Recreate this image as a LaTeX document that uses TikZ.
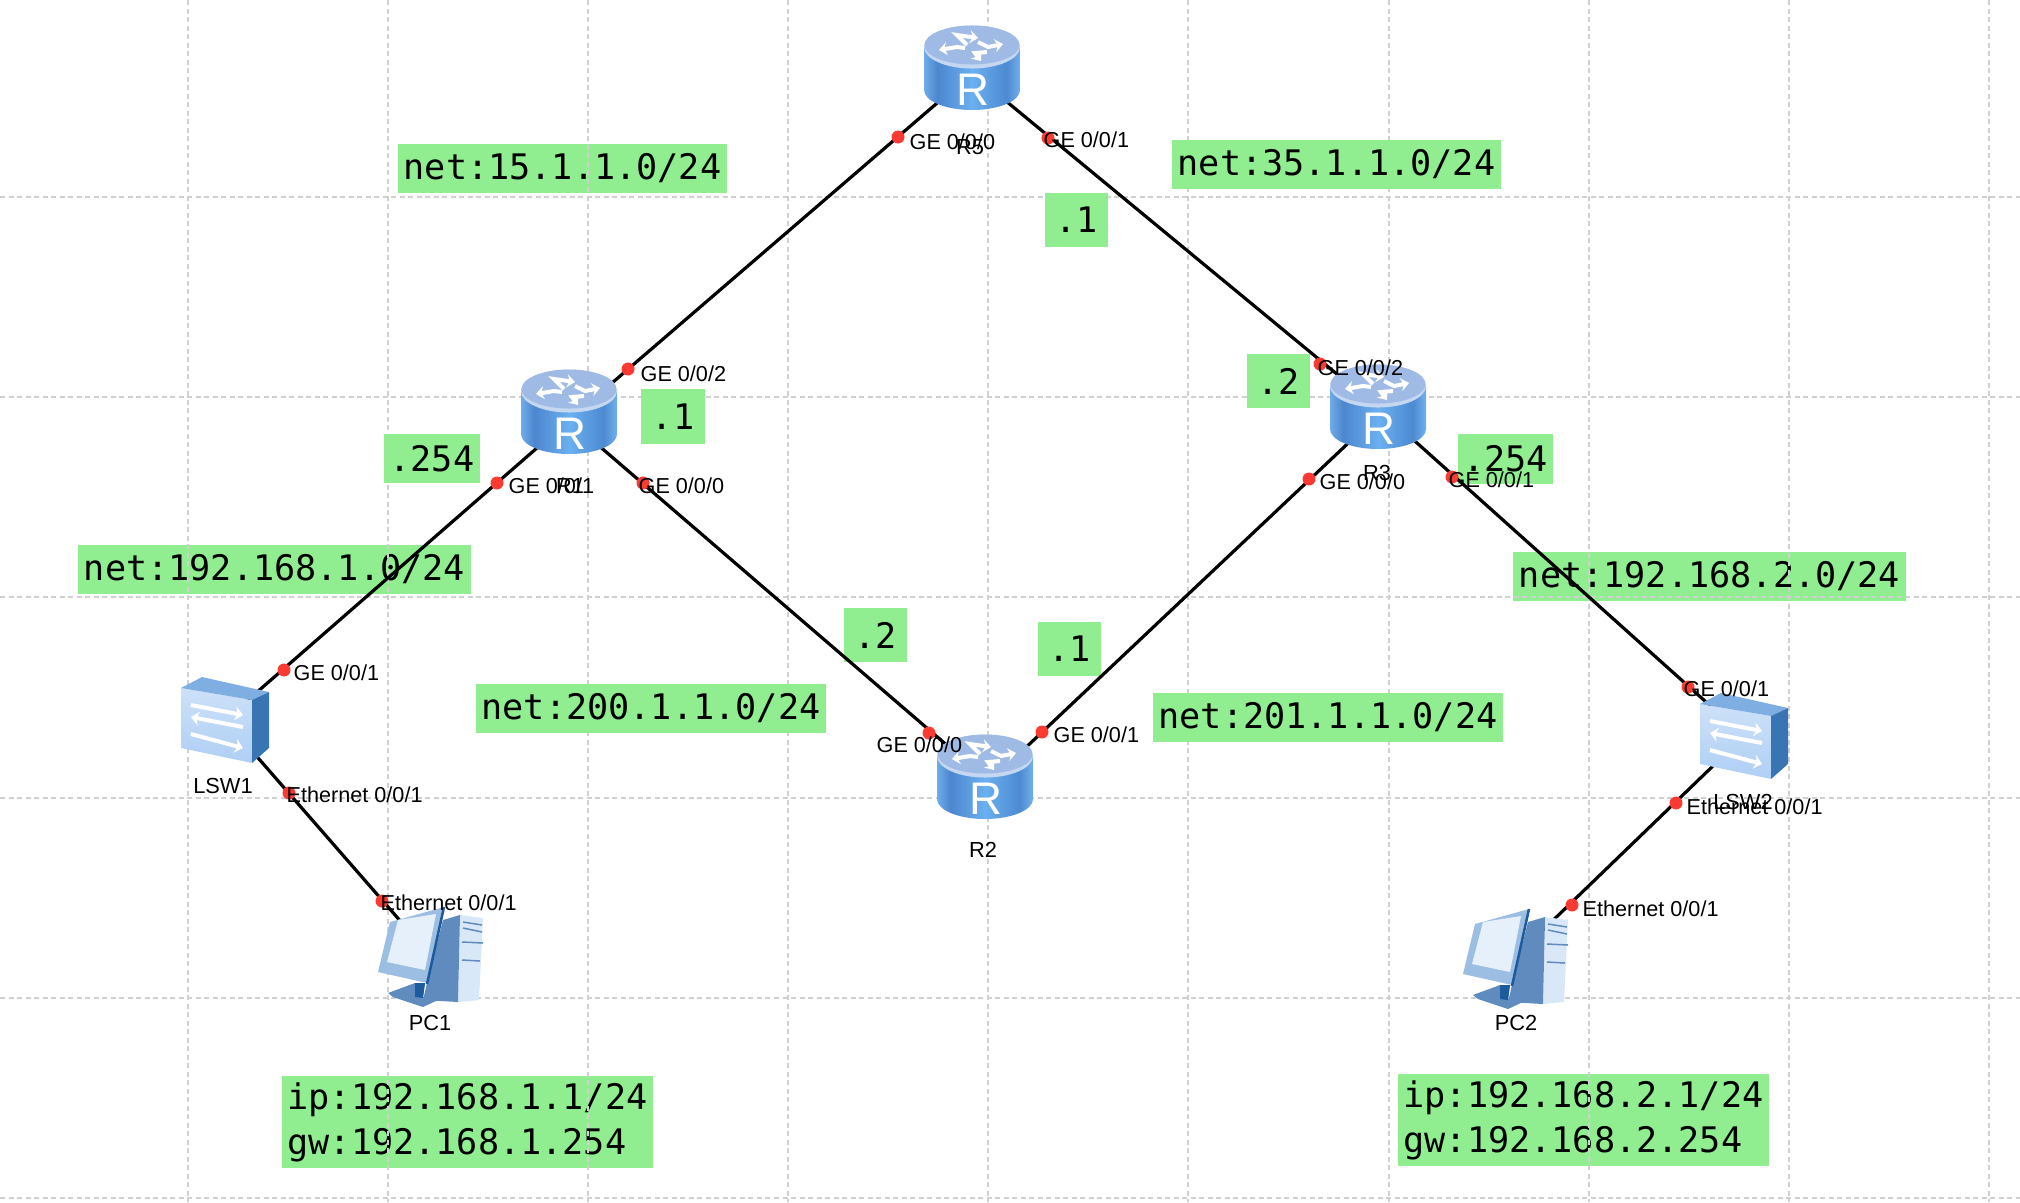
\documentclass[tikz,border=0pt]{standalone}
\usepackage{fontspec}
\setmainfont{Liberation Sans}
\setmonofont{DejaVu Sans Mono}
\usetikzlibrary{arrows.meta}
\definecolor{tagbg}{HTML}{90EE90}
\definecolor{gridc}{HTML}{D0D0D0}
\definecolor{portc}{HTML}{FB3B33}
\definecolor{rtop}{HTML}{9FBBE5}
\definecolor{rrim}{HTML}{C4D6F0}
\definecolor{swtop}{HTML}{7FAEE2}
\definecolor{swside}{HTML}{3A75B3}
\definecolor{swhi}{HTML}{CDE1F8}
\definecolor{swlo}{HTML}{AECFF5}
\definecolor{pcedge}{HTML}{1D5A9E}
\definecolor{pcside}{HTML}{5F8BBF}
\definecolor{pcfront}{HTML}{D9E8F8}
\definecolor{pcmon}{HTML}{9CBEE2}
\definecolor{pcscr}{HTML}{E6F0FA}
\pgfdeclarehorizontalshading{rbody}{100bp}{
  rgb(0bp)=(.435,.675,.91);rgb(25bp)=(.435,.675,.91);rgb(32bp)=(.30,.525,.81);
  rgb(50bp)=(.42,.69,.94);rgb(68bp)=(.30,.54,.82);rgb(75bp)=(.447,.69,.925);rgb(100bp)=(.447,.69,.925)}
\tikzset{
  tag/.style={rectangle,fill=tagbg,font=\ttfamily\fontsize{10}{12.8}\selectfont,
              inner xsep=.055cm,inner ysep=0pt,minimum width=.63cm,minimum height=.49cm,
              align=left,text=black},
  gridl/.style={gridc,line width=.02cm,dash pattern=on .05cm off .035cm},
  link/.style={black,line width=.032cm},
  dev/.style={inner sep=0pt,minimum size=.1cm},
  port/.style={circle,fill=portc,inner sep=0pt,minimum size=.13cm},
  plbl/.style={anchor=west,inner sep=0pt,font=\fontsize{6.15}{7}\selectfont,text=black},
  dlbl/.style={inner sep=0pt,font=\fontsize{6.2}{7}\selectfont,text=black},
  arw/.style={white,line width=.04cm,-{Stealth[length=.08cm,width=.14cm]}},
  barw/.style={white,line width=.04cm,-{Stealth[length=.08cm,width=.13cm]}},
  router/.pic={
    \shade[shading=rbody] (-48,-22) -- (-48,22) arc[start angle=180,end angle=360,x radius=.48cm,y radius=.2cm] -- (48,-22) -- cycle;
    \fill[rrim] (0,-21) ellipse[x radius=.48cm,y radius=.215cm];
    \fill[rtop] (0,-23) ellipse[x radius=.475cm,y radius=.195cm];
    \draw[barw] (-5,-23) -- (-15,-33) -- (6,-30);
    \draw[barw] (6,-26) -- (16,-21) -- (31,-24);
    \draw[barw] (-7,-20) -- (-15,-21) -- (-33,-18);
    \draw[barw] (15,-16) -- (3,-15) -- (9,-7);
    \node[inner sep=0pt,text=white,font=\fontsize{13}{13}\selectfont] (-r) at (1,22) {R};
  },
  switchbox/.pic={
    \shade[top color=swhi,bottom color=swlo] (-44,-32) -- (27,-20) -- (27,43) -- (-44,28) -- cycle;
    \fill[swtop] (-44,-32) -- (-23,-43) -- (44,-28) -- (27,-20) -- cycle;
    \fill[swside] (27,-20) -- (44,-28) -- (44,28) -- (27,43) -- cycle;
    \draw[arw] (-34,-15) -- (18,-5);
    \draw[arw] (18,7) -- (-34,-3);
    \draw[arw] (-34,14) -- (18,28);
  },
  pcbox/.pic={
    \fill[pcfront] (30,-40) -- (53,-37) -- (49,45) -- (28,47) -- cycle;
    \fill[pcside] (13,-35) -- (30,-40) -- (28,47) -- (-7,45) -- (-3,28) -- cycle;
    \draw[pcside,line width=.015cm] (33,-33) -- (52,-30) (33,-27) -- (52,-23) (32,-13) -- (53,-12) (32,5) -- (50,6);
    \fill[pcside] (-42,38) -- (-15,28) -- (-5,28) -- (-7,42) -- (8,45) -- (-7,52) -- (-37,42) -- cycle;
    \fill[pcedge] (-15,28) -- (-5,28) -- (-7,43) -- (-15,42) -- cycle;
    \fill[pcmon] (-40,-33) -- (14,-48) -- (-3,28) -- (-52,17) -- cycle;
    \fill[pcscr] (-32,-35) -- (6,-41) -- (-5,15) -- (-43,7) -- cycle;
    \draw[pcedge,line width=.025cm] (14,-48) -- (-3,29);
  },
}
\begin{document}
\begin{tikzpicture}[x=.01cm,y=-.01cm]
  \useasboundingbox (0,0) rectangle (2020,1202);

  \node[tag] (net15)  at (562.5,168.5) {net:15.1.1.0/24};
  \node[tag] (lan1)   at (274.5,569) {net:192.168.1.0/24};
  \node[tag] (lan2)   at (1709.5,576) {net:192.168.2.0/24};
  \node[tag,minimum height=.92cm] (ip1) at (467.5,1122) {ip:192.168.1.1/24\\gw:192.168.1.254};
  \node[tag,minimum height=.92cm] (ip2) at (1583.5,1120) {ip:192.168.2.1/24\\gw:192.168.2.254};

  \foreach \x in {188,388,588,788,988,1188,1389,1589,1789,1989}
    \draw[gridl] (\x,0) -- (\x,1202);
  \foreach \y in {197,397,597,798,998,1198}
    \draw[gridl] (0,\y) -- (2020,\y);

  \node[tag] (net35)  at (1336.5,164.5) {net:35.1.1.0/24};
  \node[tag] (net200) at (651,708) {net:200.1.1.0/24};
  \node[tag] (net201) at (1328,717.5) {net:201.1.1.0/24};
  \node[tag,minimum height=.54cm] (a5)  at (1076.5,220) {.1};
  \node[tag,minimum height=.54cm] (a3)  at (1278.5,381) {.2};
  \node[tag,minimum height=.54cm] (a1)  at (673,416.5) {.1};
  \node[tag,minimum height=.54cm] (b1)  at (875.5,635) {.2};
  \node[tag,minimum height=.54cm] (b2)  at (1069.5,649) {.1};
  \node[tag] (gw1) at (432,458.5) {.254};
  \node[tag] (gw2) at (1505.5,459) {.254};

  % devices
  \node[dev] (r5)   at (972,73) {};
  \node[dev] (r1)   at (569,420) {};
  \node[dev] (r3)   at (1378,408) {};
  \node[dev] (r2)   at (985,778) {};
  \node[dev] (lsw1) at (225,720) {};
  \node[dev] (lsw2) at (1744,736) {};
  \node[dev] (pc1)  at (430,955) {};
  \node[dev] (pc2)  at (1515,957) {};

  \draw[link] (r5.center) -- (r1.center);
  \draw[link] (r5.center) -- (r3.center);
  \draw[link] (r1.center) -- (r2.center);
  \draw[link] ([yshift=-.08cm]r2.center) -- ([yshift=-.07cm]r3.center);
  \draw[link] (r1.center) -- (lsw1.center);
  \draw[link] (r3.center) -- (lsw2.center);
  \draw[link] (lsw1.center) -- (pc1.center);
  \draw[link] (lsw2.center) -- (pc2.center);

  \pic (ic5) at (972,68) {router};
  \pic (ic1) at (569,412) {router};
  \pic (ic3) at (1378,407) {router};
  \pic (ic2) at (985,777) {router};
  \pic (is1) at (lsw1) {switchbox};
  \pic (is2) at (lsw2) {switchbox};
  \pic (ip1i) at (pc1) {pcbox};
  \pic (ip2i) at (pc2) {pcbox};

  % ports
  \node[port] (r5g0) at (898,137) {};
  \node[port] (r5g1) at (1048,138) {};
  \node[port] (r1g2) at (628,369) {};
  \node[port] (r1g1) at (497,483) {};
  \node[port] (r1g0) at (643,483) {};
  \node[port] (r3g2) at (1320,364) {};
  \node[port] (r3g0) at (1309,479) {};
  \node[port] (r3g1) at (1452,477) {};
  \node[port] (r2g0) at (929,733) {};
  \node[port] (r2g1) at (1042,732) {};
  \node[port] (s1g1) at (284,670) {};
  \node[port] (s1e1) at (289,793) {};
  \node[port] (pc1e) at (382,901) {};
  \node[port] (s2g1) at (1688,687) {};
  \node[port] (s2e1) at (1676,803) {};
  \node[port] (pc2e) at (1572,905) {};

  \node[plbl] (t1)  at (909,142) {GE 0/0/0};
  \node[plbl] (t2)  at (1043,140) {GE 0/0/1};
  \node[plbl] (t3)  at (640,374) {GE 0/0/2};
  \node[plbl] (t4)  at (508,486) {GE 0/0/1};
  \node[plbl] (t5)  at (638,486) {GE 0/0/0};
  \node[plbl] (t6)  at (1317,368) {GE 0/0/2};
  \node[plbl] (t7)  at (1319,482) {GE 0/0/0};
  \node[plbl] (t8)  at (1448,480) {GE 0/0/1};
  \node[plbl] (t9)  at (876,745) {GE 0/0/0};
  \node[plbl] (t10) at (1053,735) {GE 0/0/1};
  \node[plbl] (t11) at (293,673) {GE 0/0/1};
  \node[plbl] (t12) at (286,795) {Ethernet 0/0/1};
  \node[plbl] (t13) at (380,903) {Ethernet 0/0/1};
  \node[plbl] (t14) at (1683,689) {GE 0/0/1};
  \node[plbl] (t15) at (1686,807) {Ethernet 0/0/1};
  \node[plbl] (t16) at (1582,909) {Ethernet 0/0/1};

  \node[dlbl] (n5) at (970,147) {R5};
  \node[dlbl] (n1) at (570,486) {R1};
  \node[dlbl] (n3) at (1377,473) {R3};
  \node[dlbl] (n2) at (983,850) {R2};
  \node[dlbl] (n6) at (223,786) {LSW1};
  \node[dlbl] (n7) at (1743,802) {LSW2};
  \node[dlbl] (n8) at (430,1023) {PC1};
  \node[dlbl] (n9) at (1516,1023) {PC2};
\end{tikzpicture}
\end{document}
